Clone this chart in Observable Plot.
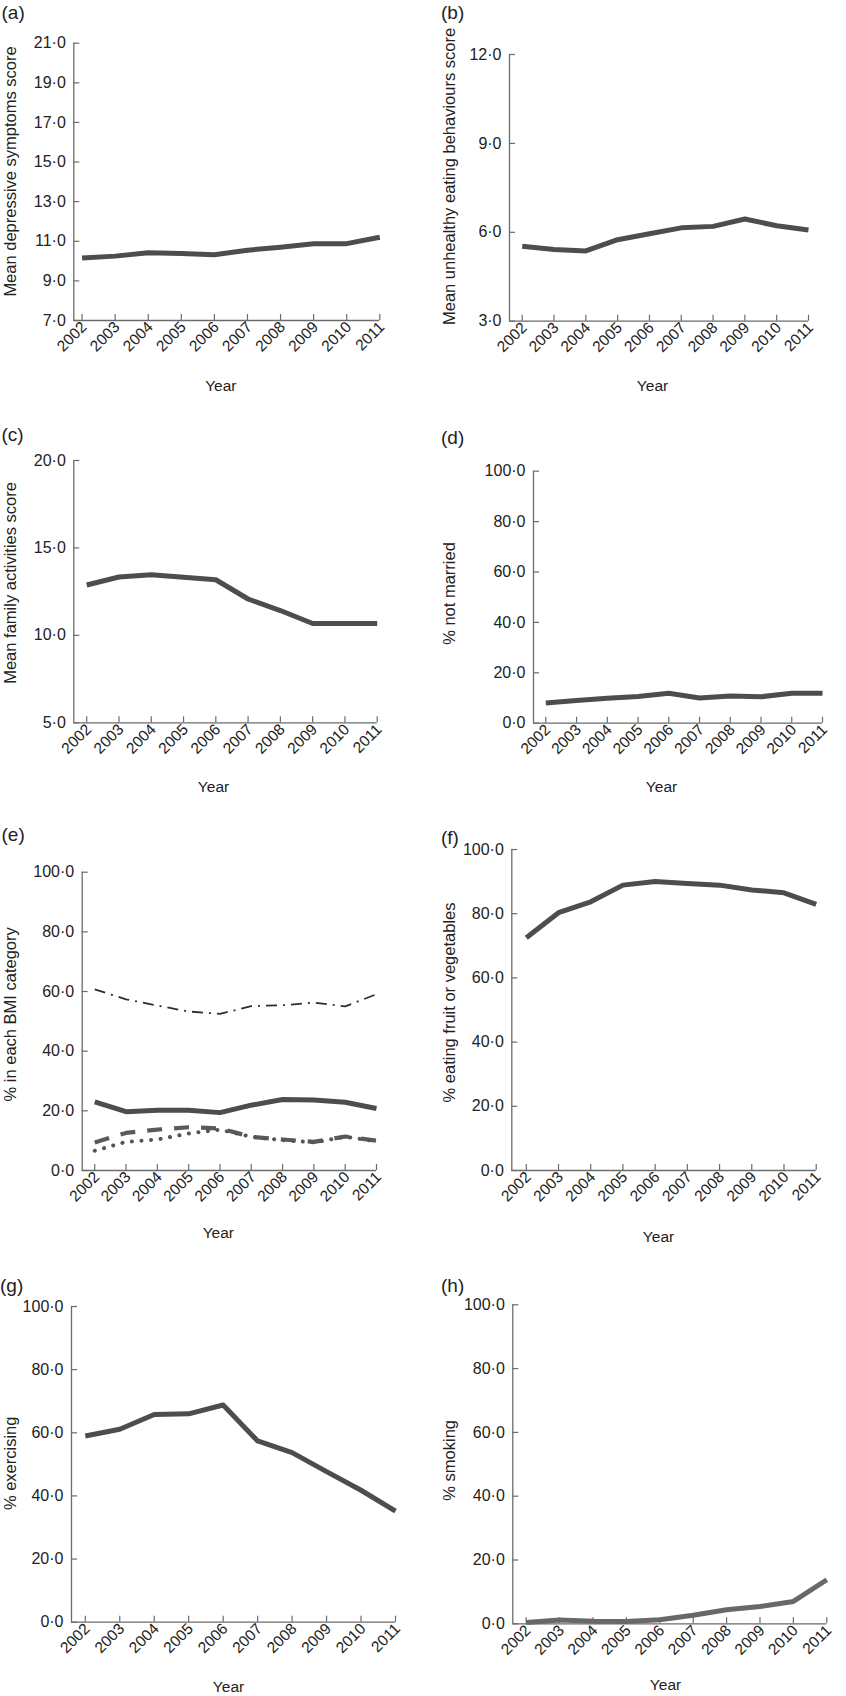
<!DOCTYPE html>
<html>
<head>
<meta charset="utf-8">
<script src="https://cdn.jsdelivr.net/npm/d3@7"></script>
<script src="https://cdn.jsdelivr.net/npm/@observablehq/plot@0.6"></script>
<style>
  body { margin: 0; background: #fff; font-family: "Liberation Sans", Arial, sans-serif; }
  #wrap { position: relative; width: 846px; height: 1696px; overflow: hidden; background: #fff; }
  .panel { position: absolute; }
  .panel svg { display: block; }
  .panel g[aria-label="y-axis tick label"] { font-size: 16px; }
  .panel g[aria-label="x-axis tick label"] { font-size: 15.5px; }
  .letter { position: absolute; font-size: 19px; line-height: 1; color: #222; white-space: nowrap; }
</style>
</head>
<body>
<div id="wrap"></div>
<script>
// ---------------- data ----------------
const years = [2002, 2003, 2004, 2005, 2006, 2007, 2008, 2009, 2010, 2011];

const depressiveScore   = [10.15, 10.25, 10.42, 10.38, 10.32, 10.55, 10.7, 10.88, 10.88, 11.2];
const unhealthyEating   = [5.53, 5.42, 5.37, 5.75, 5.95, 6.15, 6.2, 6.45, 6.22, 6.08];
const familyActivities  = [12.88, 13.34, 13.47, 13.32, 13.18, 12.08, 11.42, 10.68, 10.68, 10.68];
const notMarried        = [8.0, 9.0, 9.9, 10.6, 11.9, 10.0, 10.8, 10.5, 11.9, 11.9];
const bmiDashDot        = [60.7, 57.4, 55.3, 53.3, 52.5, 55.1, 55.4, 56.3, 55.0, 59.1];
const bmiSolid          = [23.0, 19.7, 20.2, 20.2, 19.4, 21.9, 23.8, 23.6, 22.9, 20.8];
const bmiDashed         = [9.4, 12.6, 13.7, 14.5, 14.1, 11.3, 10.4, 9.6, 11.4, 10.0];
const bmiDotted         = [6.6, 9.6, 10.4, 12.4, 13.7, 11.3, 10.2, 9.4, 11.3, 9.8];
const fruitVeg          = [72.5, 80.3, 83.7, 88.9, 90.0, 89.4, 88.9, 87.4, 86.5, 82.9];
const exercising        = [59.0, 61.1, 65.8, 66.0, 68.8, 57.4, 53.7, 47.7, 41.8, 35.2];
const smoking           = [0.4, 1.2, 0.8, 0.7, 1.3, 2.7, 4.4, 5.4, 7.0, 13.8];

const ticksA = [7, 9, 11, 13, 15, 17, 19, 21];
const ticksB = [3, 6, 9, 12];
const ticksC = [5, 10, 15, 20];
const ticksPct = [0, 20, 40, 60, 80, 100];

const titles = {
  a: "Mean depressive symptoms score",
  b: "Mean unhealthy eating behaviours score",
  c: "Mean family activities score",
  d: "% not married",
  e: "% in each BMI category",
  f: "% eating fruit or vegetables",
  g: "% exercising",
  h: "% smoking"
};
const xTitle = "Year";

// ---------------- styles ----------------
const AXIS = "#6b6b6b";
const LINE = "#4d4d4d";
const TEXT = "#222";
const FONT = "'Liberation Sans', Arial, sans-serif";

const solid = (values, stroke = LINE) => ({values, stroke, strokeWidth: 5});

const panels = [
  {id: "a", series: [solid(depressiveScore)], ticks: ticksA, xMin: 2001.75,
   left: 0, top: 0, h: 420, mt: 42.7, mb: 100, ml: 73.3, mr: 43.7,
   tdx: -70, tdy: -10.4, ydx: -6, ydy: 66, lx: 1.5, ly: 3},
  {id: "b", series: [solid(unhealthyEating)], ticks: ticksB, xMin: 2001.6,
   left: 423, top: 0, h: 420, mt: 54, mb: 99.3, ml: 86, mr: 38,
   tdx: -66, tdy: -11.4, ydx: -6.5, ydy: 65.3, lx: 441, ly: 3},
  {id: "c", series: [solid(familyActivities)], ticks: ticksC, xMin: 2001.6,
   left: 0, top: 420, h: 400, mt: 40, mb: 97.7, ml: 73.3, mr: 46.3,
   tdx: -70, tdy: -8.7, ydx: -12, ydy: 64.7, lx: 1.5, ly: 424.5},
  {id: "d", series: [solid(notMarried)], ticks: ticksPct, xMin: 2001.6,
   left: 423, top: 420, h: 400, mt: 50.7, mb: 97.3, ml: 110, mr: 24,
   tdx: -90, tdy: -3.7, ydx: -16.5, ydy: 64.3, lx: 441, ly: 428},
  {id: "e", series: [
      {values: bmiDashDot, stroke: "#2e2e2e", strokeWidth: 1.8, strokeDasharray: "11,6,2,6"},
      {values: bmiSolid, stroke: LINE, strokeWidth: 5},
      {values: bmiDashed, stroke: "#5a5a5a", strokeWidth: 4.2, strokeDasharray: "15,12"},
      {values: bmiDotted, stroke: "#555", strokeWidth: 4, strokeDasharray: "0.1,9.5", strokeLinecap: "round"}
    ], ticks: ticksPct, xMin: 2001.6,
   left: 0, top: 820, h: 440, mt: 51.7, mb: 90, ml: 81.7, mr: 47,
   tdx: -78.4, tdy: -7, ydx: -11, ydy: 63, lx: 1.5, ly: 824.5},
  {id: "f", series: [solid(fruitVeg)], ticks: ticksPct, xMin: 2001.55,
   left: 423, top: 820, h: 440, mt: 29, mb: 90, ml: 88.3, mr: 30.3,
   tdx: -68.3, tdy: -7.5, ydx: -5.5, ydy: 67, lx: 441, ly: 828},
  {id: "g", series: [solid(exercising)], ticks: ticksPct, xMin: 2001.6,
   left: 0, top: 1260, h: 436, mt: 46, mb: 74.3, ml: 71, mr: 28,
   tdx: -67.7, tdy: -1, ydx: -5, ydy: 65.3, lx: 0, ly: 1276},
  {id: "h", series: [solid(smoking, "#686868")], ticks: ticksPct, xMin: 2001.6,
   left: 423, top: 1260, h: 436, mt: 44.3, mb: 72.7, ml: 89.3, mr: 19.7,
   tdx: -69.3, tdy: -4, ydx: -4.3, ydy: 61.7, lx: 441, ly: 1276}
];

const fmtY = d => d.toFixed(1).replace(".", "\u00B7");
const wrap = document.getElementById("wrap");

for (const p of panels) {
  const W = 423;
  const innerW = W - p.ml - p.mr;
  const innerH = p.h - p.mt - p.mb;
  const yDomain = [p.ticks[0], p.ticks[p.ticks.length - 1]];
  const xDomain = [p.xMin, years[years.length - 1]];

  const marks = [
    // inward tick marks
    Plot.ruleY(p.ticks, {y: d => d, stroke: AXIS, strokeWidth: 1.2, insetRight: innerW - 6}),
    Plot.ruleX(years, {x: d => d, stroke: AXIS, strokeWidth: 1.2, insetTop: innerH - 6}),
    // axis lines
    Plot.ruleX([xDomain[0]], {x: d => d, stroke: AXIS, strokeWidth: 1.3}),
    Plot.ruleY([yDomain[0]], {y: d => d, stroke: AXIS, strokeWidth: 1.3}),
    // tick labels
    Plot.axisY({ticks: p.ticks, tickSize: 0, tickPadding: 8, tickFormat: fmtY, label: null,
                fontSize: 16, fill: TEXT}),
    Plot.axisX({ticks: years, tickSize: 0, tickPadding: 4, tickRotate: -45, dx: 2,
                tickFormat: d => String(d), label: null, fontSize: 15.5, fill: TEXT}),
    // titles
    Plot.text([titles[p.id]], {text: d => d, frameAnchor: "left", rotate: -90, textAnchor: "middle",
               lineAnchor: "top", dx: p.tdx, dy: p.tdy, fontSize: 16.5, fill: TEXT}),
    Plot.text([xTitle], {text: d => d, frameAnchor: "bottom", lineAnchor: "middle",
               dx: p.ydx, dy: p.ydy, fontSize: 15.5, fill: TEXT})
  ];

  for (const s of p.series) {
    const data = years.map((year, i) => ({year, value: s.values[i]}));
    marks.push(Plot.line(data, {
      x: "year", y: "value",
      stroke: s.stroke, strokeWidth: s.strokeWidth,
      strokeDasharray: s.strokeDasharray,
      strokeLinecap: s.strokeLinecap || "butt",
      strokeLinejoin: "round"
    }));
  }

  const chart = Plot.plot({
    width: W, height: p.h,
    marginTop: p.mt, marginBottom: p.mb, marginLeft: p.ml, marginRight: p.mr,
    style: {fontFamily: FONT, background: "transparent", color: TEXT, overflow: "visible"},
    x: {domain: xDomain},
    y: {domain: yDomain},
    marks
  });

  const holder = document.createElement("div");
  holder.className = "panel";
  holder.style.left = p.left + "px";
  holder.style.top = p.top + "px";
  holder.appendChild(chart);
  wrap.appendChild(holder);

  const letter = document.createElement("div");
  letter.className = "letter";
  letter.style.left = p.lx + "px";
  letter.style.top = p.ly + "px";
  letter.textContent = "(" + p.id + ")";
  wrap.appendChild(letter);
}
</script>
</body>
</html>
